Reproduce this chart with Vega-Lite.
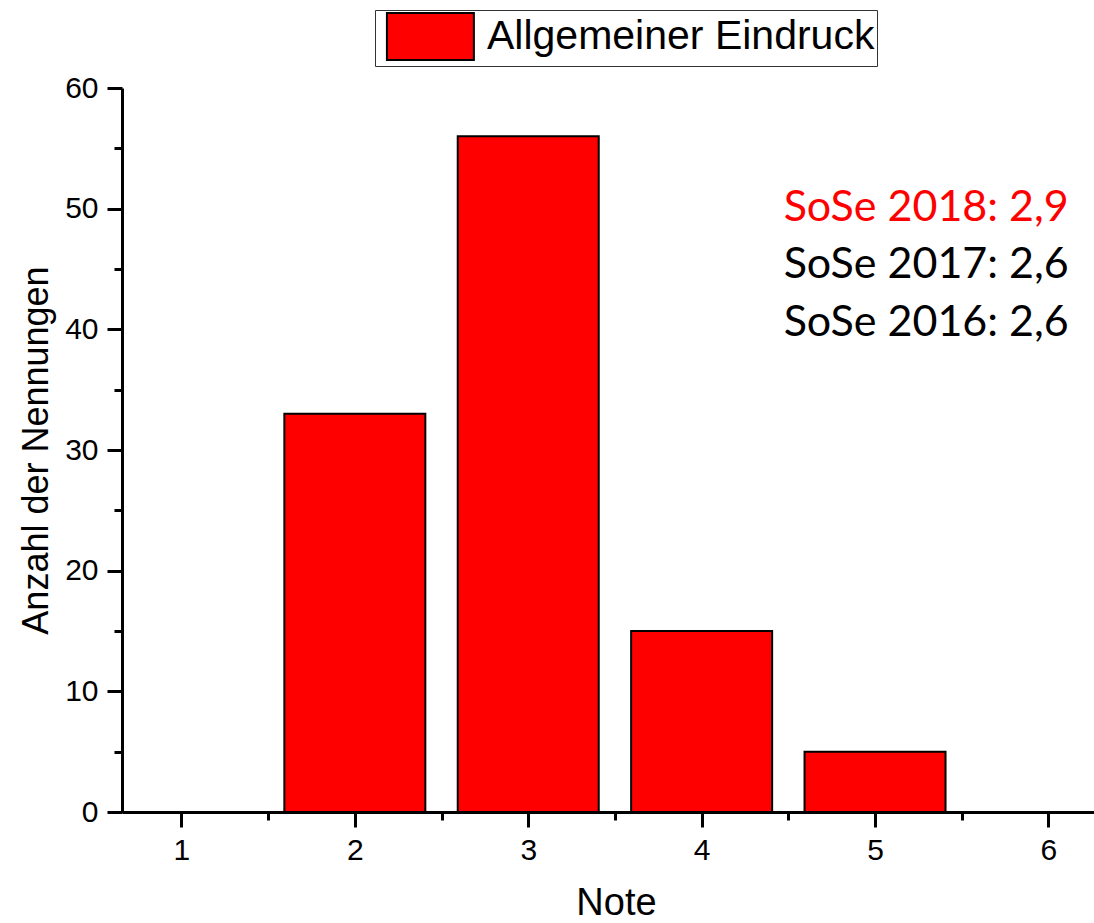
{
  "$schema": "https://vega.github.io/schema/vega-lite/v6.json",
  "width": 972,
  "height": 724,
  "autosize": {"type": "none"},
  "padding": {"left": 122, "top": 88, "right": 0, "bottom": 111},
  "background": "white",
  "config": {
    "view": {"stroke": null},
    "font": "Liberation Sans",
    "axis": {
      "domainColor": "black",
      "domainWidth": 3,
      "tickColor": "black",
      "tickWidth": 3,
      "labelColor": "black",
      "titleColor": "black",
      "grid": false,
      "labelFont": "Liberation Sans",
      "titleFont": "Liberation Sans",
      "titleFontWeight": "normal",
      "labelFontSize": 30
    }
  },
  "layer": [
    {
      "data": {"values": [
        {"note": 1, "anzahl": 0},
        {"note": 2, "anzahl": 33},
        {"note": 3, "anzahl": 56},
        {"note": 4, "anzahl": 15},
        {"note": 5, "anzahl": 5},
        {"note": 6, "anzahl": 0}
      ]},
      "mark": {"type": "bar", "width": 141, "stroke": "black", "strokeWidth": 2},
      "encoding": {
        "x": {
          "field": "note", "type": "quantitative",
          "scale": {"domain": [0.686, 6.234], "nice": false, "zero": false},
          "axis": {
            "orient": "bottom", "values": [1, 2, 3, 4, 5, 6], "format": "d",
            "tickSize": 15, "labelPadding": 8, "labelFlush": false,
            "title": "Note", "titleFontSize": 38, "titlePadding": 19, "titleX": 494
          }
        },
        "y": {
          "field": "anzahl", "type": "quantitative",
          "scale": {"domain": [0, 60], "nice": false, "zero": true},
          "axis": {
            "orient": "left", "values": [0, 10, 20, 30, 40, 50, 60],
            "tickSize": 15, "labelPadding": 9,
            "title": "Anzahl der Nennungen", "titleFontSize": 36, "titlePadding": 9
          }
        },
        "color": {
          "datum": "Allgemeiner Eindruck", "type": "nominal",
          "scale": {"range": ["#ff0000"]},
          "legend": {
            "title": null, "orient": "none", "legendX": 253, "legendY": -78,
            "symbolType": "M-0.62,-1H3.08V1H-0.62Z", "symbolSize": 2209,
            "symbolStrokeColor": "black", "symbolStrokeWidth": 2,
            "labelFont": "Liberation Sans", "labelFontSize": 41,
            "labelColor": "black", "labelLimit": 1000, "labelOffset": 61,
            "padding": 2, "strokeColor": "#333333", "fillColor": "white"
          }
        }
      }
    },
    {
      "data": {"values": [{"label": "SoSe 2018: 2,9"}]},
      "mark": {"type": "text", "font": "Lato", "fontSize": 43, "align": "left", "baseline": "alphabetic", "color": "#ff0000"},
      "encoding": {
        "x": {
          "datum": 4.473, "type": "quantitative",
          "scale": {"domain": [0.686, 6.234], "nice": false, "zero": false},
          "axis": {"orient": "bottom", "values": [1.5, 2.5, 3.5, 4.5, 5.5], "labels": false, "domain": false, "tickSize": 8, "title": null}
        },
        "y": {
          "datum": 49.0, "type": "quantitative",
          "scale": {"domain": [0, 60], "nice": false, "zero": true},
          "axis": {"orient": "left", "values": [5, 15, 25, 35, 45, 55], "labels": false, "domain": false, "tickSize": 8, "title": null}
        },
        "text": {"field": "label"}
      }
    },
    {
      "data": {"values": [{"label": "SoSe 2017: 2,6"}]},
      "mark": {"type": "text", "font": "Lato", "fontSize": 43, "align": "left", "baseline": "alphabetic", "color": "black"},
      "encoding": {
        "x": {"datum": 4.473, "type": "quantitative", "scale": {"domain": [0.686, 6.234], "nice": false, "zero": false}, "axis": null},
        "y": {"datum": 44.25, "type": "quantitative", "scale": {"domain": [0, 60], "nice": false, "zero": true}, "axis": null},
        "text": {"field": "label"}
      }
    },
    {
      "data": {"values": [{"label": "SoSe 2016: 2,6"}]},
      "mark": {"type": "text", "font": "Lato", "fontSize": 43, "align": "left", "baseline": "alphabetic", "color": "black"},
      "encoding": {
        "x": {"datum": 4.473, "type": "quantitative", "scale": {"domain": [0.686, 6.234], "nice": false, "zero": false}, "axis": null},
        "y": {"datum": 39.45, "type": "quantitative", "scale": {"domain": [0, 60], "nice": false, "zero": true}, "axis": null},
        "text": {"field": "label"}
      }
    }
  ],
  "resolve": {"axis": {"x": "independent", "y": "independent"}}
}
